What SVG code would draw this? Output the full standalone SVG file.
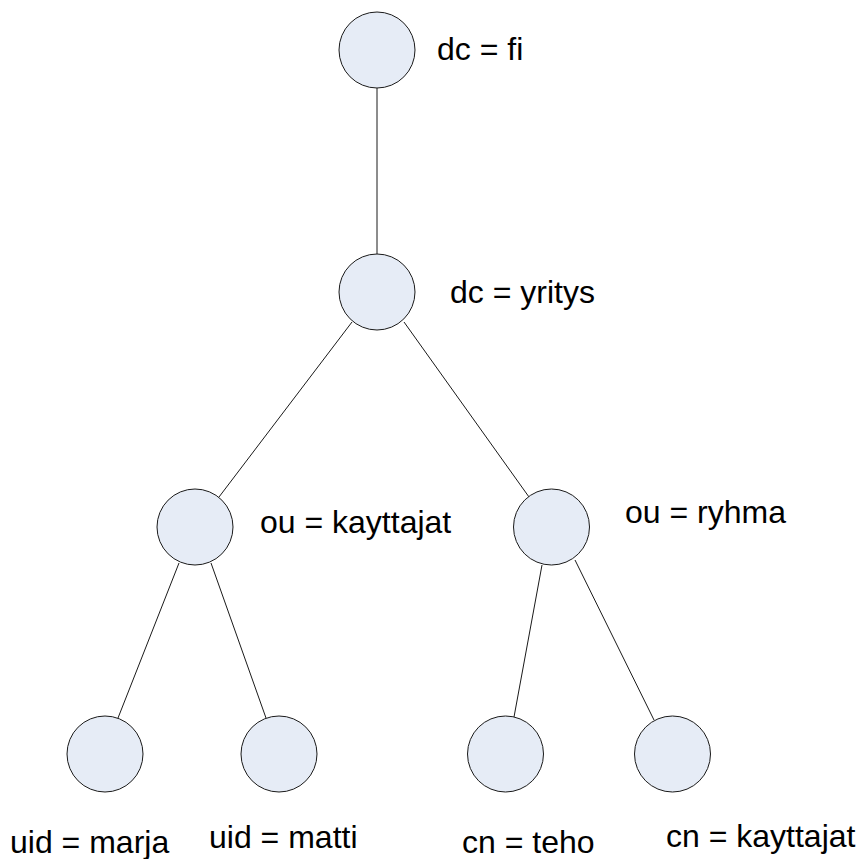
<svg xmlns="http://www.w3.org/2000/svg" width="861" height="859" viewBox="0 0 861 859">
<style>
.n{fill:#e6ecf6;stroke:#1a1a1a;stroke-width:1}
.e{stroke:#1a1a1a;stroke-width:1;fill:none}
.t{font-family:"Liberation Sans",Arial,sans-serif;font-size:32px;fill:#000}
</style>
<rect width="861" height="859" fill="#fff"/>
<g id="connectors">
<line class="e" x1="377" y1="88" x2="377" y2="254"/>
<line class="e" x1="352" y1="322" x2="219" y2="497"/>
<line class="e" x1="404" y1="322" x2="529" y2="497"/>
<line class="e" x1="179" y1="563" x2="118" y2="718"/>
<line class="e" x1="211" y1="563" x2="266" y2="718"/>
<line class="e" x1="542" y1="565" x2="514" y2="717"/>
<line class="e" x1="575" y1="560" x2="654" y2="720"/>
</g>
<g id="n-fi"><circle class="n" cx="377" cy="50" r="38"/><text class="t" x="437" y="60">dc = fi</text></g>
<g id="n-yritys"><circle class="n" cx="377" cy="292" r="38"/><text class="t" x="450" y="303">dc = yritys</text></g>
<g id="n-kayttajat"><circle class="n" cx="195" cy="527" r="38"/><text class="t" x="260" y="533">ou = kayttajat</text></g>
<g id="n-ryhma"><circle class="n" cx="551.5" cy="527" r="38"/><text class="t" x="625" y="523">ou = ryhma</text></g>
<g id="n-marja"><circle class="n" cx="105" cy="754" r="38"/><text class="t" x="10" y="853">uid = marja</text></g>
<g id="n-matti"><circle class="n" cx="279" cy="754" r="38"/><text class="t" x="209" y="848">uid = matti</text></g>
<g id="n-teho"><circle class="n" cx="505.5" cy="754" r="38"/><text class="t" x="462" y="853">cn = teho</text></g>
<g id="n-cnkayttajat"><circle class="n" cx="672.5" cy="754" r="38"/><text class="t" x="666" y="847">cn = kayttajat</text></g>
</svg>
